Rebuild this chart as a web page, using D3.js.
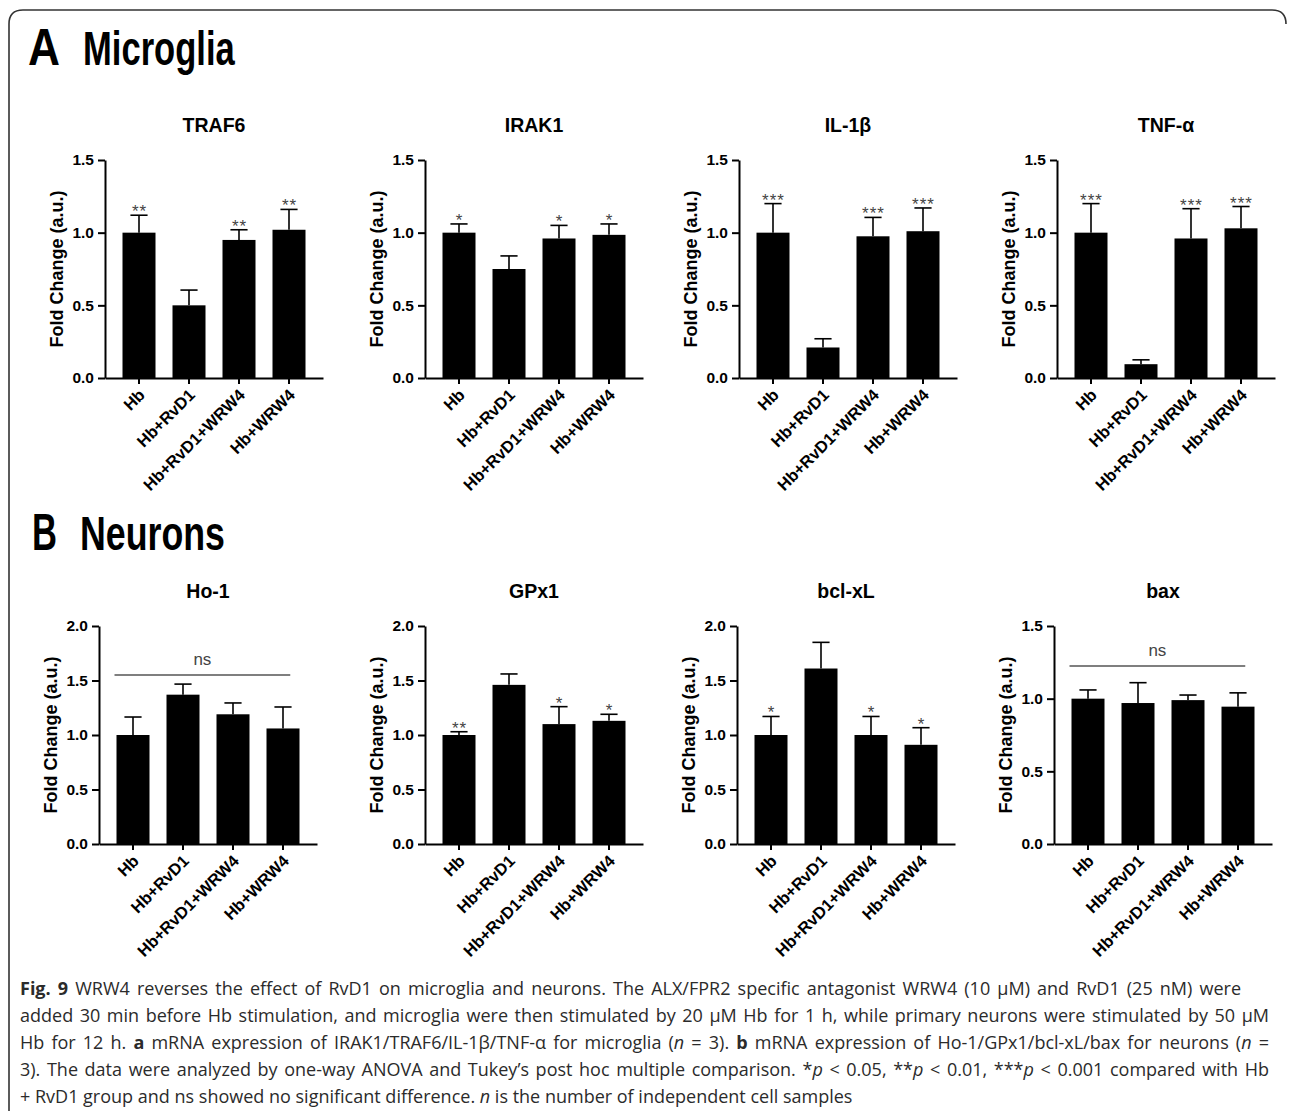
<!DOCTYPE html>
<html>
<head>
<meta charset="utf-8">
<script src="https://cdn.jsdelivr.net/npm/d3@7"></script>
<style>
  html, body { margin: 0; padding: 0; background: #fff; }
  svg { display: block; }
</style>
</head>
<body>
<script>
// Treatment groups shared by every panel
const groups = ["Hb", "Hb+RvD1", "Hb+RvD1+WRW4", "Hb+WRW4"];

// Microglia: fold change (mean) and upper error per group
const traf6Mean = [1.00, 0.50, 0.95, 1.02];
const traf6Err  = [0.12, 0.105, 0.07, 0.14];
const traf6Sig  = ["**", "", "**", "**"];

const irak1Mean = [1.00, 0.75, 0.96, 0.985];
const irak1Err  = [0.06, 0.09, 0.09, 0.075];
const irak1Sig  = ["*", "", "*", "*"];

const il1bMean = [1.00, 0.21, 0.975, 1.01];
const il1bErr  = [0.20, 0.06, 0.13, 0.16];
const il1bSig  = ["***", "", "***", "***"];

const tnfaMean = [1.00, 0.095, 0.96, 1.03];
const tnfaErr  = [0.20, 0.03, 0.205, 0.15];
const tnfaSig  = ["***", "", "***", "***"];

// Neurons
const ho1Mean = [1.00, 1.37, 1.19, 1.06];
const ho1Err  = [0.165, 0.097, 0.104, 0.197];

const gpx1Mean = [1.00, 1.46, 1.10, 1.13];
const gpx1Err  = [0.03, 0.10, 0.16, 0.06];
const gpx1Sig  = ["**", "", "*", "*"];

const bclxlMean = [1.00, 1.61, 1.00, 0.91];
const bclxlErr  = [0.17, 0.24, 0.17, 0.157];
const bclxlSig  = ["*", "", "*", "*"];

const baxMean = [1.00, 0.97, 0.99, 0.945];
const baxErr  = [0.06, 0.14, 0.035, 0.095];

// Y-axis tick values
const ticks15 = [0, 0.5, 1.0, 1.5];
const ticks20 = [0, 0.5, 1.0, 1.5, 2.0];

// Level of the "ns" bracket in the two non-significant panels
const ho1NsLevel = 1.55;
const baxNsLevel = 1.224;

const topRow = [
  { title: "TRAF6", mean: traf6Mean, err: traf6Err, sig: traf6Sig, ticks: ticks15 },
  { title: "IRAK1", mean: irak1Mean, err: irak1Err, sig: irak1Sig, ticks: ticks15 },
  { title: "IL-1β", mean: il1bMean, err: il1bErr, sig: il1bSig, ticks: ticks15 },
  { title: "TNF-α", mean: tnfaMean, err: tnfaErr, sig: tnfaSig, ticks: ticks15 }
];
const bottomRow = [
  { title: "Ho-1", mean: ho1Mean, err: ho1Err, sig: null, ticks: ticks20, ns: ho1NsLevel },
  { title: "GPx1", mean: gpx1Mean, err: gpx1Err, sig: gpx1Sig, ticks: ticks20 },
  { title: "bcl-xL", mean: bclxlMean, err: bclxlErr, sig: bclxlSig, ticks: ticks20 },
  { title: "bax", mean: baxMean, err: baxErr, sig: null, ticks: ticks15, ns: baxNsLevel }
];

// Page geometry
const W = 1290, H = 1111;
const plotW = 218;
const rowLayout = [
  { axisX: [105, 425, 739, 1057], top: 160, bottom: 378, titleY: 132 },
  { axisX: [99, 425, 737, 1054], top: 626, bottom: 844, titleY: 598 }
];
const FONT = "'Liberation Sans', Arial, Helvetica, sans-serif";

const svg = d3.select("body").append("svg")
  .attr("width", W).attr("height", H)
  .attr("viewBox", `0 0 ${W} ${H}`);

// Figure frame: left edge and top edge with rounded corners
svg.append("path")
  .attr("d", "M9,1111 V24 Q9,10 23,10 H1272 Q1286,10 1286,24")
  .attr("fill", "none").attr("stroke", "#333").attr("stroke-width", 1.6);

// Condensed bold heading text: squeezed horizontally to the given width
function condensed(str, x, baseline, size, width) {
  const t = svg.append("text")
    .attr("font-family", FONT).attr("font-weight", 700).attr("font-size", size)
    .attr("fill", "#000").text(str);
  const w = t.node().getBBox().width;
  t.attr("transform", `translate(${x},${baseline}) scale(${width / w},1)`);
}
condensed("A", 28, 65, 52, 32);
condensed("Microglia", 83, 65, 48, 152);
condensed("B", 32, 550, 52, 25);
condensed("Neurons", 80, 550, 48, 145);

function drawPanel(p, ax, top, bottom, titleY) {
  const g = svg.append("g");
  const yMax = p.ticks[p.ticks.length - 1];
  const y = d3.scaleLinear().domain([0, yMax]).range([bottom, top]);
  const x = d3.scaleBand().domain(groups).range([ax, ax + plotW])
    .paddingInner(0.34).paddingOuter(0.35);
  const bw = x.bandwidth();

  // Title
  g.append("text")
    .attr("x", ax + plotW / 2).attr("y", titleY)
    .attr("text-anchor", "middle")
    .attr("font-family", FONT).attr("font-weight", 700).attr("font-size", 19.5)
    .attr("fill", "#000").text(p.title);

  // Upper error bars
  const eb = g.append("g").attr("stroke", "#000").attr("stroke-width", 1.6).attr("fill", "none");
  groups.forEach((d, i) => {
    const cx = x(d) + bw / 2;
    const y0 = y(p.mean[i]);
    const y1 = y(p.mean[i] + p.err[i]);
    eb.append("line").attr("x1", cx).attr("x2", cx).attr("y1", y0).attr("y2", y1);
    eb.append("line").attr("x1", cx - bw * 0.26).attr("x2", cx + bw * 0.26).attr("y1", y1).attr("y2", y1);
  });

  // Bars
  g.append("g").selectAll("rect").data(groups).join("rect")
    .attr("x", d => x(d))
    .attr("y", (d, i) => y(p.mean[i]))
    .attr("width", bw)
    .attr("height", (d, i) => y(0) - y(p.mean[i]))
    .attr("fill", "#000");

  // Significance stars above each error cap
  if (p.sig) {
    g.append("g").selectAll("text").data(groups).join("text")
      .attr("x", d => x(d) + bw / 2 + 0.5)
      .attr("y", (d, i) => y(p.mean[i] + p.err[i]) + 2)
      .attr("text-anchor", "middle")
      .attr("font-family", FONT).attr("font-size", 17)
      .attr("letter-spacing", 1)
      .attr("fill", "#444")
      .text((d, i) => p.sig[i]);
  }

  // "ns" bracket spanning all groups
  if (p.ns !== undefined) {
    const ly = y(p.ns);
    const x0 = x(groups[0]) - 2;
    const x1 = x(groups[groups.length - 1]) + bw * 0.72;
    g.append("line").attr("x1", x0).attr("x2", x1).attr("y1", ly).attr("y2", ly)
      .attr("stroke", "#555").attr("stroke-width", 1.5);
    g.append("text").attr("x", (x0 + x1) / 2).attr("y", ly - 10)
      .attr("text-anchor", "middle")
      .attr("font-family", FONT).attr("font-size", 17).attr("fill", "#444")
      .text("ns");
  }

  // Y axis
  const yAxis = d3.axisLeft(y).tickValues(p.ticks).tickFormat(d3.format(".1f"))
    .tickSize(7).tickPadding(4).tickSizeOuter(0);
  const ya = g.append("g").attr("transform", `translate(${ax},0)`).call(yAxis);
  ya.select(".domain").attr("stroke", "#000").attr("stroke-width", 2);
  ya.selectAll(".tick line").attr("stroke", "#000").attr("stroke-width", 2);
  ya.selectAll(".tick text")
    .attr("font-family", FONT).attr("font-weight", 700).attr("font-size", 15.5).attr("fill", "#000");

  // X axis with rotated group labels
  const xAxis = d3.axisBottom(x).tickSize(6).tickSizeOuter(0).tickFormat("");
  const xa = g.append("g").attr("transform", `translate(0,${bottom})`).call(xAxis);
  xa.select(".domain").attr("stroke", "#000").attr("stroke-width", 2);
  xa.selectAll(".tick line").attr("stroke", "#000").attr("stroke-width", 2);
  xa.selectAll(".tick").append("text")
    .attr("transform", "translate(7,18) rotate(-45)")
    .attr("text-anchor", "end")
    .attr("font-family", FONT).attr("font-weight", 700).attr("font-size", 16.5)
    .attr("fill", "#000")
    .text(d => d);

  // Y axis title
  g.append("text")
    .attr("transform", `translate(${ax - 48},${(top + bottom) / 2}) rotate(-90)`)
    .attr("dy", "0.36em")
    .attr("text-anchor", "middle")
    .attr("font-family", FONT).attr("font-weight", 700).attr("font-size", 18)
    .attr("fill", "#000").text("Fold Change (a.u.)");
}

[topRow, bottomRow].forEach((row, r) => {
  const L = rowLayout[r];
  row.forEach((p, i) => drawPanel(p, L.axisX[i], L.top, L.bottom, L.titleY));
});

// Caption, set line by line; segments are [text, style]
const captionLines = [
  [["Fig. 9", "b"], [" WRW4 reverses the effect of RvD1 on microglia and neurons. The ALX/FPR2 specific antagonist WRW4 (10 µM) and RvD1 (25 nM) were", ""]],
  [["added 30 min before Hb stimulation, and microglia were then stimulated by 20 µM Hb for 1 h, while primary neurons were stimulated by 50 µM", ""]],
  [["Hb for 12 h. ", ""], ["a", "b"], [" mRNA expression of IRAK1/TRAF6/IL-1β/TNF-α for microglia (", ""], ["n", "i"], [" = 3). ", ""], ["b", "b"], [" mRNA expression of Ho-1/GPx1/bcl-xL/bax for neurons (", ""], ["n", "i"], [" =", ""]],
  [["3). The data were analyzed by one-way ANOVA and Tukey’s post hoc multiple comparison. *", ""], ["p", "i"], [" < 0.05, **", ""], ["p", "i"], [" < 0.01, ***", ""], ["p", "i"], [" < 0.001 compared with Hb", ""]],
  [["+ RvD1 group and ns showed no significant difference. ", ""], ["n", "i"], [" is the number of independent cell samples", ""]]
];
const captionRight = [1241, 1269, 1269, 1269, null];
const capX = 20, capY0 = 995, capStep = 27;

captionLines.forEach((segs, li) => {
  const t = svg.append("text")
    .attr("x", capX).attr("y", capY0 + li * capStep)
    .attr("font-family", "'Open Sans', 'Noto Sans', sans-serif")
    .attr("font-size", 18).attr("fill", "#2b2b2b")
    .attr("xml:space", "preserve").style("white-space", "pre");
  segs.forEach(([s, st]) => {
    const ts = t.append("tspan").text(s);
    if (st === "b") ts.attr("font-weight", 700);
    if (st === "i") ts.attr("font-style", "italic");
  });
  const target = captionRight[li];
  if (target) {
    const natural = t.node().getComputedTextLength();
    const full = segs.map(s => s[0]).join("");
    const spaces = (full.match(/ /g) || []).length;
    if (spaces > 0) t.attr("word-spacing", (target - capX - natural) / spaces);
  }
});
</script>
</body>
</html>
